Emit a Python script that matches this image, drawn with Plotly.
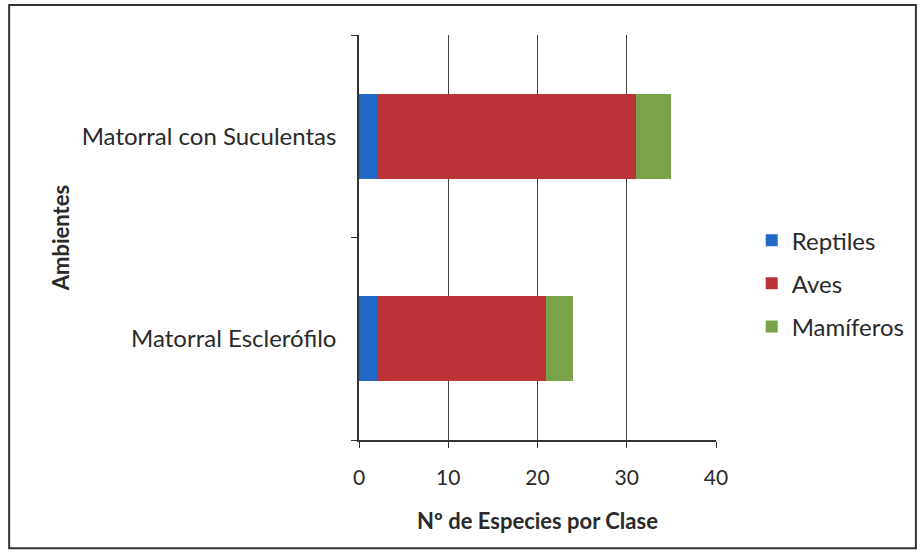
import plotly.graph_objects as go

# Habitat categories (bottom to top) and species counts per class
ambientes = ["Matorral Esclerófilo", "Matorral con Suculentas"]
reptiles = [2, 2]
aves = [19, 29]
mamiferos = [3, 4]

x_ticks = [0, 10, 20, 30, 40]

series = [
    ("Reptiles", reptiles, "#2268c8"),
    ("Aves", aves, "#bc3337"),
    ("Mamíferos", mamiferos, "#78a348"),
]

fig = go.Figure()
for name, vals, color in series:
    fig.add_trace(go.Bar(
        y=ambientes, x=vals, name=name, orientation="h",
        marker=dict(color=color, line=dict(width=0)),
        legendgroup=name,
    ))

font_family = "Lato, Open Sans, sans-serif"
txt = "#2a2a2a"

fig.update_layout(
    barmode="stack",
    bargap=0.58,
    width=923, height=560,
    margin=dict(l=359, r=207, t=35, b=120),
    paper_bgcolor="white",
    plot_bgcolor="white",
    font=dict(family=font_family, size=21, color=txt),
    showlegend=True,
    legend=dict(
        x=1.10, xanchor="left", y=0.548, yanchor="top",
        traceorder="grouped", tracegroupgap=9,
        font=dict(size=24, color=txt),
        itemwidth=30,
    ),
    xaxis=dict(
        range=[0, 40], tickvals=x_ticks,
        showgrid=True, gridcolor="#444444", gridwidth=1,
        showline=True, linecolor="#333333", linewidth=1.5,
        ticks="outside", ticklen=6, tickcolor="#333333",
        tickfont=dict(size=21, color=txt),
        ticklabelstandoff=12,
        zeroline=False,
        title=dict(text="<b>Nº de Especies por Clase</b>", font=dict(size=22, color=txt), standoff=26),
    ),
    yaxis=dict(
        type="category",
        range=[-0.5, 1.5],
        showline=True, linecolor="#333333", linewidth=1.5,
        ticks="outside", ticklen=6, tickcolor="#333333",
        tickson="boundaries",
        showgrid=False,
        tickfont=dict(size=24, color=txt),
        ticklabelstandoff=16,
        title=dict(text="<b>Ambientes</b>", font=dict(size=22, color=txt), standoff=6),
    ),
    shapes=[dict(
        type="rect", xref="paper", yref="paper",
        x0=-0.980, x1=1.560, y0=-0.267, y1=1.074,
        line=dict(color="#333333", width=2), fillcolor="rgba(0,0,0,0)",
    )],
)

fig.write_html("out.html")
